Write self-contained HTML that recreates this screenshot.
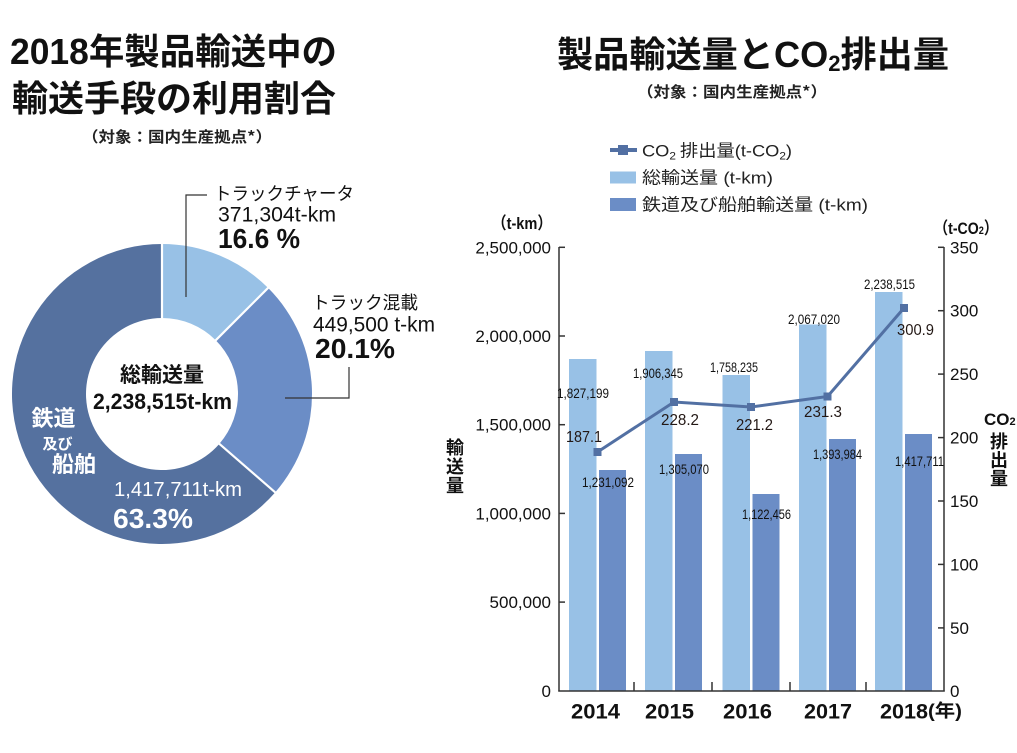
<!DOCTYPE html>
<html><head><meta charset="utf-8">
<style>
html,body{margin:0;padding:0;background:#fff;}
svg{display:block;}
text{font-family:"Liberation Sans","Noto Sans CJK JP",sans-serif;}
.jp{font-family:"Noto Sans CJK JP","Liberation Sans",sans-serif;}
</style></head>
<body>
<svg width="1017" height="753" viewBox="0 0 1017 753" xmlns="http://www.w3.org/2000/svg">
<rect width="1017" height="753" fill="#fff"/>

<!-- LEFT TITLE -->
<text x="10" y="64" font-size="36" font-weight="bold" fill="#111" textLength="327" lengthAdjust="spacingAndGlyphs">2018<tspan class="jp">年製品輸送中の</tspan></text>
<text class="jp" x="12" y="111" font-size="36" font-weight="bold" fill="#111" textLength="324" lengthAdjust="spacingAndGlyphs">輸送手段の利用割合</text>
<text class="jp" x="82" y="142" font-size="15" font-weight="bold" fill="#222" textLength="190" lengthAdjust="spacingAndGlyphs">（対象：国内生産拠点*）</text>

<!-- DONUT -->
<path d="M162,244 A150,150 0 0 1 268.07,287.93 L215.74,340.26 A76,76 0 0 0 162,318 Z" fill="#98c1e6"/>
<path d="M268.07,287.93 A150,150 0 0 1 275.2,492.4 L219.36,443.86 A76,76 0 0 0 215.74,340.26 Z" fill="#6b8dc6"/>
<path d="M275.2,492.4 A150,150 0 1 1 162,244 L162,318 A76,76 0 1 0 219.36,443.86 Z" fill="#55719f"/>
<line x1="162" y1="243" x2="162" y2="319" stroke="#fff" stroke-width="2.2"/>
<line x1="268.8" y1="287.2" x2="215.2" y2="340.8" stroke="#fff" stroke-width="2.2"/>
<line x1="276" y1="493.1" x2="218.6" y2="443.2" stroke="#fff" stroke-width="2.2"/>

<!-- donut center -->
<text class="jp" x="162" y="382" font-size="21" font-weight="bold" fill="#111" text-anchor="middle">総輸送量</text>
<text x="93" y="409" font-size="22" font-weight="bold" fill="#111" textLength="139" lengthAdjust="spacingAndGlyphs">2,238,515t-km</text>

<!-- dark slice labels -->
<text class="jp" x="53.5" y="426" font-size="22" font-weight="bold" fill="#fff" text-anchor="middle">鉄道</text>
<text class="jp" x="57.5" y="449" font-size="15" font-weight="bold" fill="#fff" text-anchor="middle">及び</text>
<text class="jp" x="74" y="472" font-size="22" font-weight="bold" fill="#fff" text-anchor="middle">船舶</text>
<text x="114" y="496" font-size="20" fill="#fff" textLength="128" lengthAdjust="spacingAndGlyphs">1,417,711t-km</text>
<text x="113" y="528" font-size="28" font-weight="bold" fill="#fff" textLength="80" lengthAdjust="spacingAndGlyphs">63.3%</text>

<!-- truck charter labels -->
<polyline points="207,195 186,195 186,297" fill="none" stroke="#333" stroke-width="1.2"/>
<text class="jp" x="214" y="200" font-size="18" fill="#111" textLength="140" lengthAdjust="spacingAndGlyphs">トラックチャータ</text>
<text x="218" y="221.5" font-size="21" fill="#111" textLength="118" lengthAdjust="spacingAndGlyphs">371,304t-km</text>
<text x="218" y="248" font-size="28" font-weight="bold" fill="#111" textLength="82" lengthAdjust="spacingAndGlyphs">16.6 %</text>

<!-- truck mixed labels -->
<polyline points="349,367 349,398 285,398" fill="none" stroke="#333" stroke-width="1.2"/>
<text class="jp" x="312" y="309" font-size="18" fill="#111" textLength="106" lengthAdjust="spacingAndGlyphs">トラック混載</text>
<text x="313" y="331.5" font-size="21" fill="#111" textLength="122" lengthAdjust="spacingAndGlyphs">449,500 t-km</text>
<text x="315" y="358" font-size="28" font-weight="bold" fill="#111" textLength="80" lengthAdjust="spacingAndGlyphs">20.1%</text>

<!-- RIGHT TITLE -->
<text x="557" y="67" font-size="36" font-weight="bold" fill="#111" textLength="392" lengthAdjust="spacingAndGlyphs"><tspan class="jp">製品輸送量と</tspan>CO<tspan font-size="22" dy="4">2</tspan><tspan class="jp" dy="-4">排出量</tspan></text>
<text class="jp" x="637" y="97" font-size="15" font-weight="bold" fill="#222" textLength="190" lengthAdjust="spacingAndGlyphs">（対象：国内生産拠点*）</text>

<!-- LEGEND -->
<line x1="610" y1="150" x2="637" y2="150" stroke="#5270a3" stroke-width="4"/>
<rect x="618" y="145" width="10" height="10" fill="#5270a3"/>
<text x="642" y="156.5" font-size="17" fill="#222" textLength="150" lengthAdjust="spacingAndGlyphs">CO<tspan font-size="11" dy="3">2</tspan><tspan class="jp" dy="-3"> 排出量</tspan>(t-CO<tspan font-size="11" dy="3">2</tspan><tspan dy="-3">)</tspan></text>
<rect x="610" y="171.5" width="26" height="12" fill="#98c1e6"/>
<text x="642" y="183.5" font-size="17" fill="#222" textLength="131" lengthAdjust="spacingAndGlyphs"><tspan class="jp">総輸送量</tspan> (t-km)</text>
<rect x="610" y="198" width="26" height="13" fill="#6b8dc6"/>
<text x="642" y="210.5" font-size="17" fill="#222" textLength="226" lengthAdjust="spacingAndGlyphs"><tspan class="jp">鉄道及び船舶輸送量</tspan> (t-km)</text>

<!-- axis unit labels -->
<text x="492" y="229" font-size="17" font-weight="bold" fill="#111" textLength="60" lengthAdjust="spacingAndGlyphs"><tspan class="jp">（</tspan>t-km<tspan class="jp">）</tspan></text>
<text x="934" y="234" font-size="17" font-weight="bold" fill="#111" textLength="64" lengthAdjust="spacingAndGlyphs"><tspan class="jp">（</tspan>t-CO<tspan font-size="11">2</tspan><tspan class="jp">）</tspan></text>

<!-- vertical axis titles -->
<g class="jp" font-size="18" font-weight="bold" fill="#111" text-anchor="middle">
<text class="jp" x="455" y="454">輸</text>
<text class="jp" x="455" y="473">送</text>
<text class="jp" x="455" y="492">量</text>
<text class="jp" x="999" y="448">排</text>
<text class="jp" x="999" y="466.5">出</text>
<text class="jp" x="999" y="485">量</text>
</g>
<text x="984" y="425" font-size="17" font-weight="bold" fill="#111">CO<tspan font-size="11">2</tspan></text>

<!-- BARS -->
<g fill="#98c1e6">
<rect x="569" y="359" width="27.5" height="332"/>
<rect x="645" y="351" width="27.5" height="340"/>
<rect x="722.5" y="375" width="27.5" height="316"/>
<rect x="799" y="324.5" width="27.5" height="366.5"/>
<rect x="875" y="292" width="27.5" height="399"/>
</g>
<g fill="#6b8dc6">
<rect x="599" y="470" width="27" height="221"/>
<rect x="675" y="454" width="27" height="237"/>
<rect x="752.5" y="494" width="27" height="197"/>
<rect x="829" y="439" width="27" height="252"/>
<rect x="905" y="434" width="27" height="257"/>
</g>

<!-- AXES -->
<g stroke="#333" stroke-width="1.5" fill="none">
<line x1="559" y1="247" x2="559" y2="691.5"/>
<line x1="944" y1="247" x2="944" y2="691.5"/>
<line x1="558.3" y1="691" x2="944.7" y2="691"/>
<line x1="559" y1="247.3" x2="565" y2="247.3"/>
<line x1="559" y1="336" x2="565" y2="336"/>
<line x1="559" y1="424.7" x2="565" y2="424.7"/>
<line x1="559" y1="513.4" x2="565" y2="513.4"/>
<line x1="559" y1="602.1" x2="565" y2="602.1"/>
<line x1="938" y1="247.3" x2="944" y2="247.3"/>
<line x1="938" y1="310.7" x2="944" y2="310.7"/>
<line x1="938" y1="374.1" x2="944" y2="374.1"/>
<line x1="938" y1="437.6" x2="944" y2="437.6"/>
<line x1="938" y1="501" x2="944" y2="501"/>
<line x1="938" y1="564.4" x2="944" y2="564.4"/>
<line x1="938" y1="627.9" x2="944" y2="627.9"/>
<line x1="634" y1="682" x2="634" y2="691"/>
<line x1="712" y1="682" x2="712" y2="691"/>
<line x1="790" y1="682" x2="790" y2="691"/>
<line x1="866" y1="682" x2="866" y2="691"/>
</g>

<!-- left tick labels -->
<g font-size="17" fill="#111" text-anchor="end">
<text x="551" y="253.5">2,500,000</text>
<text x="551" y="342">2,000,000</text>
<text x="551" y="430.7">1,500,000</text>
<text x="551" y="519.4">1,000,000</text>
<text x="551" y="608.1">500,000</text>
<text x="551" y="697">0</text>
</g>
<!-- right tick labels -->
<g font-size="17" fill="#111">
<text x="950" y="253.3">350</text>
<text x="950" y="316.7">300</text>
<text x="950" y="380.1">250</text>
<text x="950" y="443.6">200</text>
<text x="950" y="507">150</text>
<text x="950" y="570.4">100</text>
<text x="950" y="633.9">50</text>
<text x="950" y="697">0</text>
</g>

<!-- x labels -->
<g font-size="21" font-weight="bold" fill="#111">
<text x="571" y="718.5" textLength="49" lengthAdjust="spacingAndGlyphs">2014</text>
<text x="645" y="718.5" textLength="49" lengthAdjust="spacingAndGlyphs">2015</text>
<text x="723" y="718.5" textLength="49" lengthAdjust="spacingAndGlyphs">2016</text>
<text x="804" y="718.5" textLength="48" lengthAdjust="spacingAndGlyphs">2017</text>
<text x="880" y="718.5" textLength="48" lengthAdjust="spacingAndGlyphs">2018</text>
</g>
<text x="928" y="717" font-size="18" font-weight="bold" fill="#111" textLength="34" lengthAdjust="spacingAndGlyphs">(<tspan class="jp">年</tspan>)</text>

<!-- CO2 line -->
<polyline points="597.5,452 674,402 751,407 827.5,396.5 904,308" fill="none" stroke="#5270a3" stroke-width="3"/>
<g fill="#5270a3">
<rect x="593.5" y="448" width="8" height="8"/>
<rect x="670" y="398" width="8" height="8"/>
<rect x="747" y="403" width="8" height="8"/>
<rect x="823.5" y="392.5" width="8" height="8"/>
<rect x="900" y="304" width="8" height="8"/>
</g>

<!-- value labels (condensed) -->
<g font-size="14" fill="#111">
<text x="557" y="398" textLength="52" lengthAdjust="spacingAndGlyphs">1,827,199</text>
<text x="582" y="487" textLength="52" lengthAdjust="spacingAndGlyphs">1,231,092</text>
<text x="633" y="378" textLength="50" lengthAdjust="spacingAndGlyphs">1,906,345</text>
<text x="659" y="474" textLength="50" lengthAdjust="spacingAndGlyphs">1,305,070</text>
<text x="710" y="372" textLength="48" lengthAdjust="spacingAndGlyphs">1,758,235</text>
<text x="742" y="519" textLength="49" lengthAdjust="spacingAndGlyphs">1,122,456</text>
<text x="788" y="324" textLength="52" lengthAdjust="spacingAndGlyphs">2,067,020</text>
<text x="813" y="459" textLength="49" lengthAdjust="spacingAndGlyphs">1,393,984</text>
<text x="864" y="289" textLength="51" lengthAdjust="spacingAndGlyphs">2,238,515</text>
<text x="895" y="466" textLength="49" lengthAdjust="spacingAndGlyphs">1,417,711</text>
</g>
<g font-size="16" fill="#231815">
<text x="566" y="442" textLength="36" lengthAdjust="spacingAndGlyphs">187.1</text>
<text x="661" y="425" textLength="38" lengthAdjust="spacingAndGlyphs">228.2</text>
<text x="736" y="430" textLength="37" lengthAdjust="spacingAndGlyphs">221.2</text>
<text x="804" y="417" textLength="38" lengthAdjust="spacingAndGlyphs">231.3</text>
<text x="897" y="335" textLength="37" lengthAdjust="spacingAndGlyphs">300.9</text>
</g>
</svg>
</body></html>
